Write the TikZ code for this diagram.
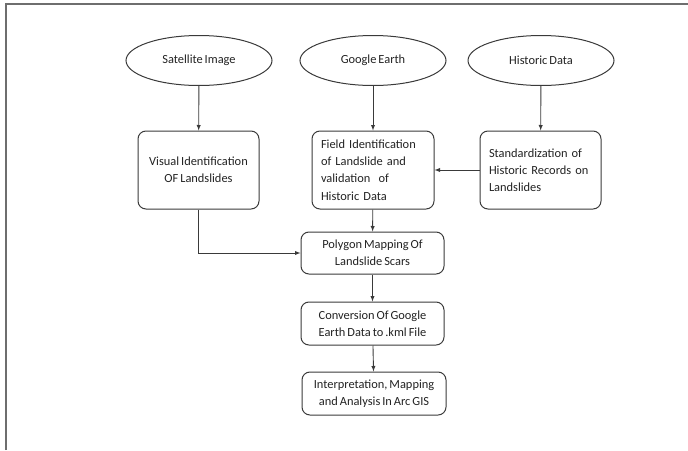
\documentclass[tikz,border=0pt]{standalone}
\usepackage{fontspec}
\setmainfont[WordSpace=0.7]{Carlito}
\usepackage{tikz}
\usetikzlibrary{positioning,shapes,arrows,calc}
\definecolor{linegray}{HTML}{3A3A3A}
\definecolor{textgray}{HTML}{222222}
\definecolor{framegray}{HTML}{6E6E6E}

\begin{document}
\begin{tikzpicture}[x=1pt,y=-1pt,
      >=latex,
      source/.style={
        shape=ellipse,
        draw=linegray,
        line width=1pt,
        minimum width=146pt,
        minimum height=50pt,
        inner sep=0pt,
        text=textgray,
        font=\fontsize{12.4}{17.2}\selectfont,
      },
      proc/.style={
        shape=rectangle,
        rounded corners=2.8mm,
        draw=linegray,
        line width=1pt,
        inner xsep=9pt,
        inner ysep=0pt,
        text=textgray,
        font=\fontsize{12.4}{17.2}\selectfont,
      },
      flow/.style={->, linegray, line width=0.9pt},
    ]
      \useasboundingbox (0,0) rectangle (688,450);
      \draw[framegray, line width=1.5pt] (6,450) -- (6,4) -- (688,4);
      % sources
      \node[source] (sat) at (199,60.5) {Satellite Image};
      \node[source] (ge) at (373,60.5) {Google Earth};
      \node[source] (hist) at (541,60.5) {Historic Data};
      % first row of steps
      \node[proc, minimum width=121pt, minimum height=78pt, align=center] (visual) at (198.5,170) {Visual Identification\\OF Landslides};
      \node[proc, text width=104pt, minimum height=78pt, align=left] (field) at (373,170) {Field Identification\\of Landslide and\\validation\ \ of\\Historic Data};
      \node[proc, text width=103pt, minimum height=78pt, align=left] (stand) at (540.5,170) {Standardization of\\Historic Records on\\Landslides};
      % chain
      \node[proc, minimum width=143pt, minimum height=42pt, align=center] (poly) at (372.5,253) {Polygon Mapping Of\\Landslide Scars};
      \node[proc, minimum width=143pt, minimum height=43pt, align=center] (conv) at (372.5,323.5) {Conversion Of Google\\Earth Data to .kml File};
      \node[proc, minimum width=144pt, minimum height=43pt, align=center] (interp) at (374,393.5) {Interpretation, Mapping\\and Analysis In Arc GIS};
      \draw[flow] (sat) -- (visual);
      \draw[flow] (ge) -- (field);
      \draw[flow] (hist) -- (stand);
      \draw[flow] (stand) -- (field);
      \draw[flow] (visual.south) |- (poly.west);
      \draw[flow] (field) -- (poly);
      \draw[flow] (poly) -- (conv);
      \draw[flow] (conv) -- (interp);
    \end{tikzpicture}
\end{document}
